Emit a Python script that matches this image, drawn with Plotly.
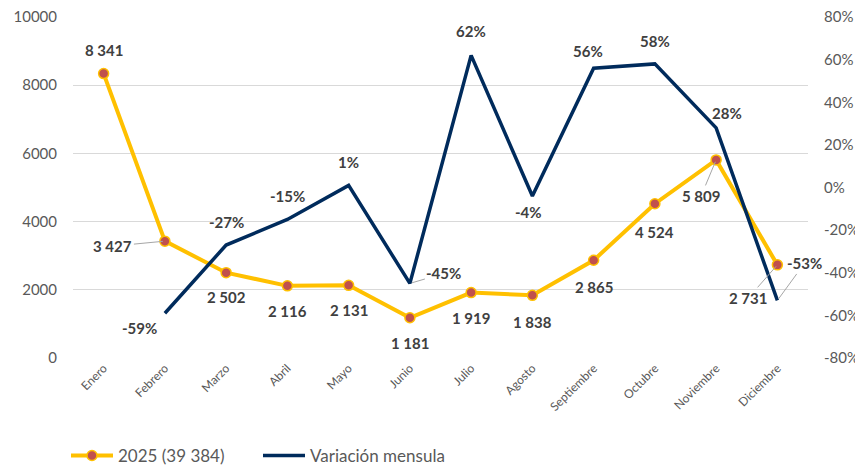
import plotly.graph_objects as go

months = ["Enero", "Febrero", "Marzo", "Abril", "Mayo", "Junio", "Julio",
          "Agosto", "Septiembre", "Octubre", "Noviembre", "Diciembre"]
sales_2025 = [8341, 3427, 2502, 2116, 2131, 1181, 1919, 1838, 2865, 4524, 5809, 2731]
variation = [None, -59, -27, -15, 1, -45, 62, -4, 56, 58, 28, -53]
sales_name = "2025 (39 384)"
var_name = "Variación mensula"
left_ticks = [0, 2000, 4000, 6000, 8000, 10000]
right_ticks = [-80, -60, -40, -20, 0, 20, 40, 60, 80]

YELLOW = "#FFC000"
RED = "#C0504D"
NAVY = "#002B5C"
LBL = "#404040"
FONT = "Lato, 'Open Sans', sans-serif"

# page body has an 8px default margin: the figure is sized to fit inside the window
W, H = 855, 461

def fmt_num(v):
    return f"{v:,}".replace(",", " ")

# label placement styles: (mode, dx, dy) ; mode 'a' uses leader line
sales_style = [("s", 0, 24), ("a", -52, 5), ("s", 0, -24), ("s", 0, -25), ("s", 0, -25),
               ("s", 0, -25), ("s", 0, -25), ("s", 0, -27), ("s", 0, -27), ("s", 0, -28),
               ("a", -15, 36), ("a", -29, 33)]
var_style = [None, ("s", -25, -15), ("s", 0, 23), ("s", 0, 23), ("s", 0, 23),
             ("a", 34, -10), ("s", 0, 24), ("s", -4, -16), ("s", -6, 17), ("s", 0, 23),
             ("s", 11, 15), ("a", 27, -37)]

fig = go.Figure()
fig.add_trace(go.Scatter(
    x=months, y=sales_2025, name=sales_name, mode="lines+markers",
    line=dict(color=YELLOW, width=4),
    marker=dict(color=RED, size=10, line=dict(color=YELLOW, width=1.5)),
    yaxis="y"))
fig.add_trace(go.Scatter(
    x=months, y=variation, name=var_name, mode="lines",
    line=dict(color=NAVY, width=3.5), yaxis="y2"))

ann = []
lblfont = dict(family=FONT, size=15, color=LBL)
for m, v, st in zip(months, sales_2025, sales_style):
    mode, dx, dy = st
    txt = "<b>" + fmt_num(v) + "</b>"
    if mode == "a":
        ann.append(dict(x=m, y=v, xref="x", yref="y", text=txt, showarrow=True,
                        ax=dx, ay=dy, arrowhead=0, arrowwidth=1, arrowcolor="#A6A6A6",
                        standoff=2, font=lblfont))
    else:
        ann.append(dict(x=m, y=v, xref="x", yref="y", text=txt, showarrow=False,
                        xshift=dx, yshift=dy, font=lblfont))
for m, v, st in zip(months, variation, var_style):
    if v is None:
        continue
    mode, dx, dy = st
    txt = f"<b>{v}%</b>"
    if mode == "a":
        ann.append(dict(x=m, y=v, xref="x", yref="y2", text=txt, showarrow=True,
                        ax=dx, ay=dy, arrowhead=0, arrowwidth=1, arrowcolor="#A6A6A6",
                        standoff=2, font=lblfont))
    else:
        ann.append(dict(x=m, y=v, xref="x", yref="y2", text=txt, showarrow=False,
                        xshift=dx, yshift=dy, font=lblfont))

fig.update_layout(
    width=W, height=H,
    margin=dict(l=65, r=55, t=9, b=111),
    paper_bgcolor="white", plot_bgcolor="white",
    font=dict(family=FONT, color="#595959"),
    showlegend=True,
    legend=dict(orientation="h", x=58 / W, xref="container", y=1 - 448 / H,
                yref="container", xanchor="left", yanchor="middle",
                font=dict(family=FONT, size=17, color="#595959"),
                itemwidth=42, entrywidth=135, entrywidthmode="pixels",
                traceorder="normal"),
    xaxis=dict(type="category", tickangle=-45, tickfont=dict(size=12, color="#595959"),
               showgrid=False, showline=False, ticks="", range=[-0.5, 11.5],
               automargin=False),
    yaxis=dict(range=[0, 10000], tickvals=left_ticks, ticktext=[str(t) for t in left_ticks],
               showgrid=True, gridcolor="#D9D9D9", gridwidth=1, zeroline=False,
               tickfont=dict(size=15, color="#595959"), ticks="outside", ticklen=12,
               tickcolor="rgba(0,0,0,0)", automargin=False, ticklabeloverflow="allow"),
    yaxis2=dict(range=[-80, 80], overlaying="y", side="right", tickvals=right_ticks,
                ticktext=[f"{t}%" for t in right_ticks], showgrid=False, zeroline=False,
                tickfont=dict(size=15, color="#595959"), ticks="outside", ticklen=12,
                tickcolor="rgba(0,0,0,0)", automargin=False, ticklabeloverflow="allow"),
    annotations=ann,
)
fig.write_html("out.html")
